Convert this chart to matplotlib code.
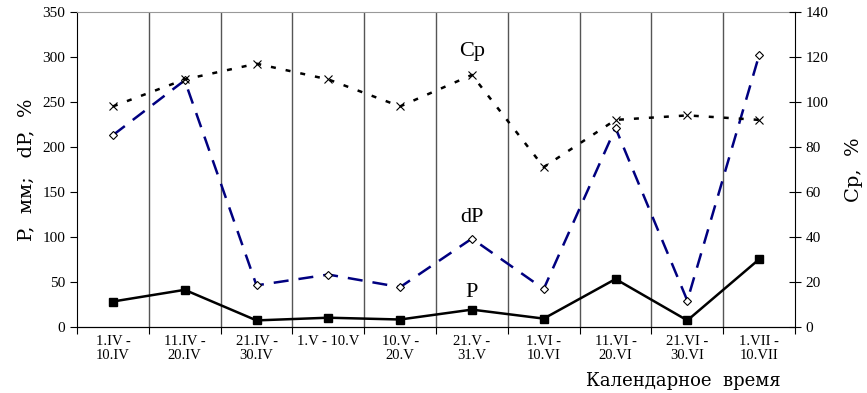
import numpy as np
import matplotlib.pyplot as plt

# декады
periods = ['1.IV -\n10.IV', '11.IV -\n20.IV', '21.IV -\n30.IV', '1.V - 10.V',
           '10.V -\n20.V', '21.V -\n31.V', '1.VI -\n10.VI', '11.VI -\n20.VI',
           '21.VI -\n30.VI', '1.VII -\n10.VII']
# осадки P, мм
P = [28, 41, 7, 10, 8, 19, 9, 53, 7, 75]
# dP, %
dP = [213, 274, 46, 58, 44, 98, 42, 221, 29, 302]
# Cp, %
Cp = [98, 110, 117, 110, 98, 112, 71, 92, 94, 92]

tick_font = 'Liberation Serif'
label_font = 'DejaVu Serif'

fig = plt.figure(figsize=(8.67, 3.93), dpi=100)
ax = fig.add_axes([0.0888, 0.1687, 0.8282, 0.8008])
x = np.arange(len(periods))

ax.plot(x, dP, color='#000080', lw=1.8, ls=(0, (6, 4)), marker='D', ms=4,
        mfc='white', mec='black', mew=0.8, zorder=3)
ax.plot(x, P, color='black', lw=1.8, marker='s', ms=6, zorder=4)

ax.set_xlim(-0.5, len(periods) - 0.5)
ax.set_ylim(0, 350)
ax.set_yticks(range(0, 351, 50))
ax.set_xticks(np.arange(-0.5, len(periods), 1))
ax.set_xticklabels([])
ax.set_xticks(x, minor=True)
ax.set_xticklabels(periods, minor=True, fontsize=10.5, family=tick_font,
                   linespacing=1.05)
ax.tick_params(axis='x', which='minor', length=0, pad=6)
ax.tick_params(axis='x', which='major', direction='out', length=5)
ax.tick_params(axis='y', direction='out', length=5, labelsize=11)
for t in ax.get_yticklabels():
    t.set_family(tick_font)

# вертикальные разделители декад
for b in np.arange(0.5, len(periods) - 0.5, 1):
    ax.axvline(b, color='#555555', lw=1, zorder=1)

ax.spines['top'].set_color('#999999')
ax.spines['right'].set_visible(False)

ax.set_ylabel('P,  мм;   dP,  %', fontsize=14, family=label_font, labelpad=5)
ax.text(0.98, -0.172, 'Календарное  время', transform=ax.transAxes,
        ha='right', va='center', fontsize=13, family=label_font)

ax2 = ax.twinx()
ax2.plot(x, Cp, color='black', lw=1.8, ls=(0, (2, 4)), marker='x', ms=6,
         mew=0.8, zorder=3)
ax2.set_ylim(0, 140)
ax2.set_yticks(range(0, 141, 20))
ax2.tick_params(axis='y', direction='inout', length=8, labelsize=11)
for t in ax2.get_yticklabels():
    t.set_family(tick_font)
ax2.spines['top'].set_visible(False)
ax2.spines['left'].set_visible(False)
ax2.set_ylabel('Cp,  %', fontsize=14, family=label_font, labelpad=12)

ax.text(5, 306, 'Cp', ha='center', va='center', fontsize=16, family=tick_font)
ax.text(5, 121, 'dP', ha='center', va='center', fontsize=16, family=tick_font)
ax.text(5, 38, 'P', ha='center', va='center', fontsize=16, family=tick_font)

fig.savefig('out.png', dpi=100)
